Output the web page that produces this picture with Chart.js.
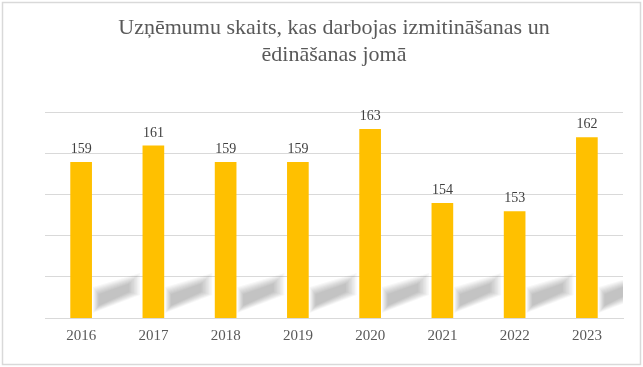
<!DOCTYPE html>
<html>
<head>
<meta charset="utf-8">
<script src="https://cdn.jsdelivr.net/npm/chart.js@4"></script>
<style>
body { margin: 0; background: #fff; }
#wrap { width: 643px; height: 367px; position: relative; }
</style>
</head>
<body>
<div id="wrap"><canvas id="chartUznemumi" width="643" height="367"></canvas></div>
<script>
var gadi = ['2016','2017','2018','2019','2020','2021','2022','2023']
var skaits = [159, 161, 159, 159, 163, 154, 153, 162]
var virsraksts = ['Uzņēmumu skaits, kas darbojas izmitināšanas un', 'ēdināšanas jomā']
var yMin = 140
var yMax = 165
var ySolis = 5
var stabinaPlatums = 0.3

// balts fons un rāmis
var ramis = {
    id: 'ramis',
    beforeDraw: function(chart){
        let c = chart.ctx
        c.save()
        c.fillStyle = '#ffffff'
        c.fillRect(0, 0, chart.width, chart.height)
        c.strokeStyle = '#d9d9d9'
        c.lineWidth = 1.5
        c.strokeRect(2.5, 2.5, chart.width - 5, chart.height - 5)
        c.restore()
    }
}

// slīpās ēnas starp stabiņiem + vērtību uzraksti
var enas = {
    id: 'enas',
    afterDatasetsDraw: function(chart){
        let c = chart.ctx
        let area = chart.chartArea
        let xs = chart.scales.x
        let solis = xs.getPixelForValue(1) - xs.getPixelForValue(0)
        let puse = solis * stabinaPlatums / 2
        let yb = chart.scales.y.getPixelForValue(yMin)
        for (let i = 0; i < gadi.length; i++) {
            let xr = xs.getPixelForValue(i) + puse + 1
            // vairāki caurspīdīgi slāņi mīkstām malām
            for (let k = 0; k < 8; k++) {
                let s = 7 - k
                let x0 = xr + k * 0.8
                let x1 = Math.min(xr + 47 - k * 1.5, area.right)
                if (x1 <= x0) continue
                let t = (x1 - xr) / 47
                c.save()
                c.fillStyle = 'rgba(0,0,0,0.03)'
                c.beginPath()
                c.moveTo(x0, yb - 12 + s)
                c.lineTo(x0, yb - 24 - s)
                c.lineTo(x1, yb - 24 - s - t * 14)
                c.lineTo(x1, yb - 12 + s - t * 18)
                c.closePath()
                c.fill()
                c.restore()
            }
        }

        let meta = chart.getDatasetMeta(0)
        c.save()
        c.font = '14px "Liberation Serif", "Times New Roman", serif'
        c.fillStyle = '#404040'
        c.textAlign = 'center'
        c.textBaseline = 'alphabetic'
        meta.data.forEach(function(bar, i){
            c.fillText(skaits[i], bar.x, bar.y - 9)
        })
        c.restore()
    }
}

var ctx = document.getElementById('chartUznemumi')
var chartUznemumi = new Chart(ctx, {
    type: 'bar',
    data: {
        labels: gadi,
        datasets: [{
            label: 'Uzņēmumu skaits',
            data: skaits,
            backgroundColor: '#FFC000',
            borderColor: '#FFC000',
            borderWidth: 0,
            categoryPercentage: 1,
            barPercentage: stabinaPlatums
        }]
    },
    options: {
        responsive: false,
        animation: false,
        devicePixelRatio: 1,
        layout: {
            padding: { left: 45, right: 20, top: 15, bottom: 21 }
        },
        plugins: {
            legend: { display: false },
            tooltip: { enabled: false },
            title: {
                display: true,
                text: virsraksts,
                color: '#595959',
                font: { family: '"Liberation Serif", "Times New Roman", serif', size: 22, weight: 'normal', lineHeight: 1.22 },
                padding: { top: 0, bottom: 44 }
            }
        },
        scales: {
            x: {
                grid: { display: false },
                border: { display: true, color: '#d9d9d9', width: 1 },
                ticks: {
                    color: '#595959',
                    padding: 1,
                    maxRotation: 0,
                    font: { family: '"Liberation Serif", "Times New Roman", serif', size: 15 }
                }
            },
            y: {
                min: yMin,
                max: yMax,
                ticks: { display: false, stepSize: ySolis },
                grid: { color: '#d9d9d9', drawTicks: false },
                border: { display: false }
            }
        }
    },
    plugins: [ramis, enas]
})
</script>
</body>
</html>
